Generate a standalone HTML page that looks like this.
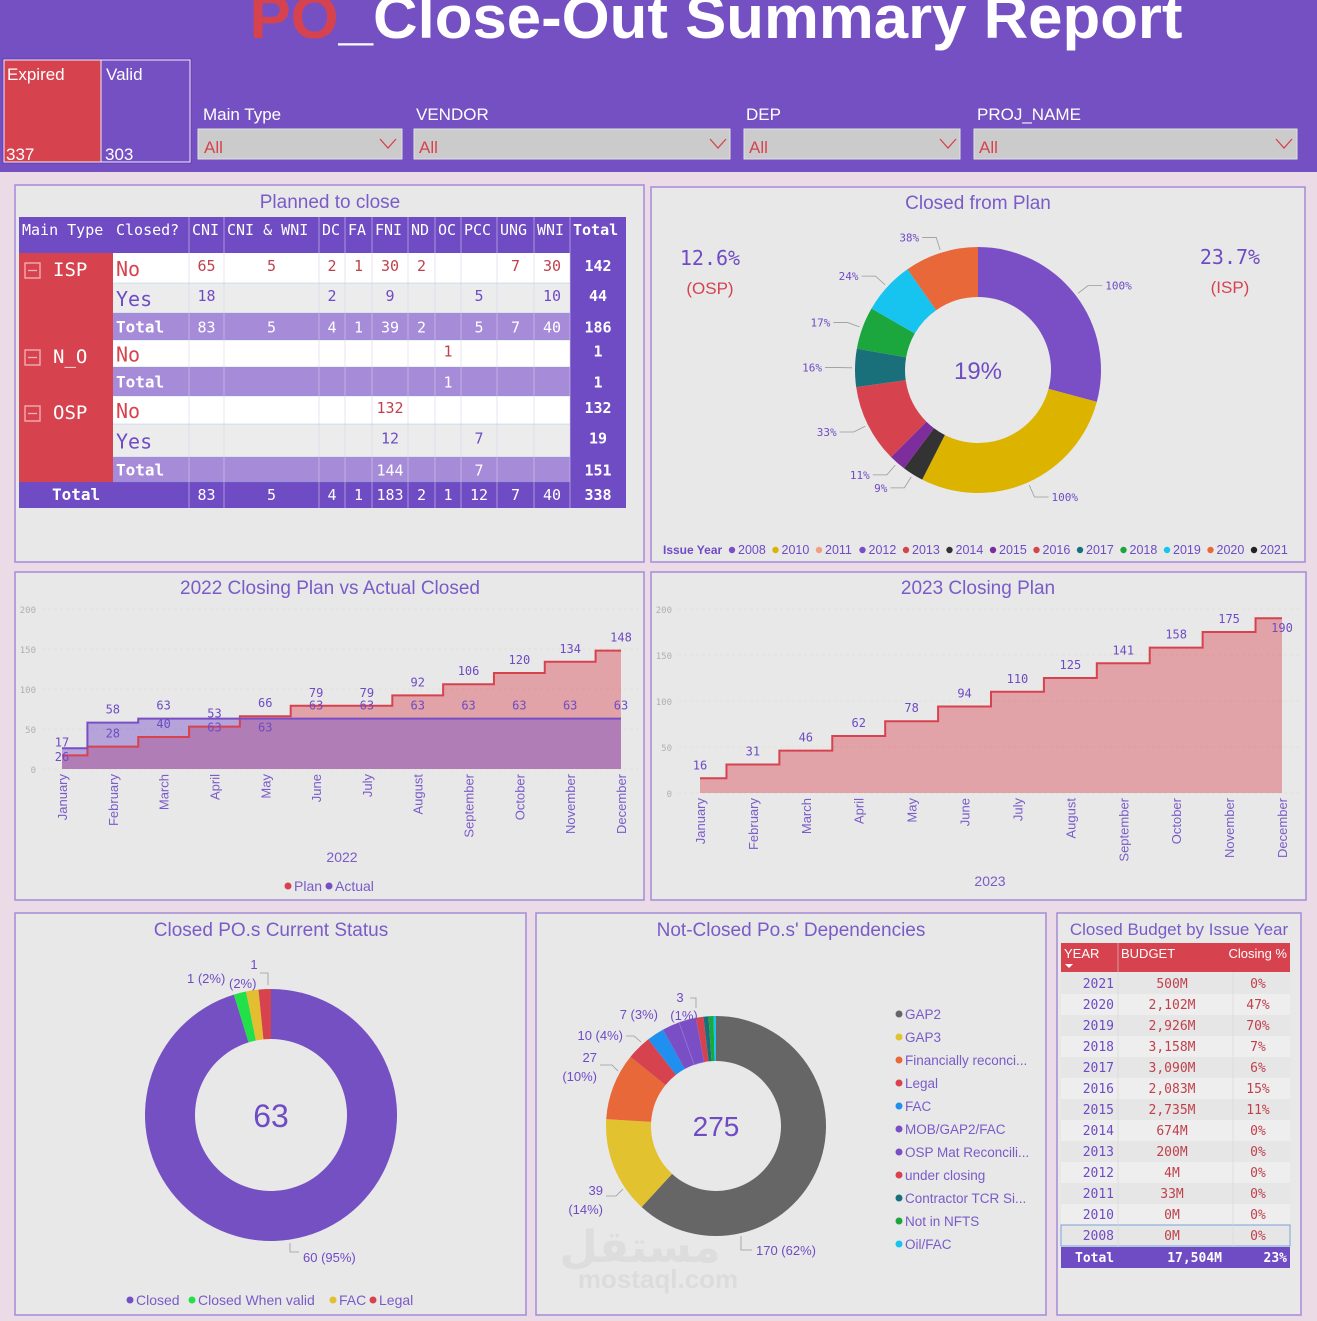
<!DOCTYPE html>
<html><head><meta charset="utf-8"><title>PO Close-Out Summary Report</title>
<style>
html,body{margin:0;padding:0;background:#eadbe6;}
svg{display:block;font-family:"Liberation Sans","DejaVu Sans",sans-serif;}
.mono{font-family:"DejaVu Sans Mono","Liberation Mono",monospace;}
</style></head>
<body>
<svg id="dash" width="1317" height="1321" viewBox="0 0 1317 1321" xmlns="http://www.w3.org/2000/svg">
<rect x="0" y="0" width="1317" height="1321" fill="#eadbe6"/>
<rect x="0" y="0" width="1317" height="172" fill="#7450c3"/>
<text x="716" y="38" text-anchor="middle" font-size="60" font-weight="bold" fill="#ffffff" textLength="933" lengthAdjust="spacingAndGlyphs"><tspan fill="#d6434f">PO</tspan>_Close-Out Summary Report</text>

<g>
<rect x="2" y="58" width="190" height="106" fill="#6a46b8"/>
<rect x="4" y="60" width="97" height="102" fill="#d6434f" stroke="#f4e9f7" stroke-width="1"/>
<rect x="101" y="60" width="89" height="102" fill="#7450c3" stroke="#f4e9f7" stroke-width="1"/>
<text x="7" y="80" font-size="17" fill="#fff">Expired</text>
<text x="106" y="80" font-size="17" fill="#fff">Valid</text>
<text x="6" y="160" font-size="17" fill="#fff">337</text>
<text x="105" y="160" font-size="17" fill="#fff">303</text>
</g>

<g>
<text x="203" y="120" font-size="17" fill="#fff">Main Type</text>
<rect x="198" y="129" width="204" height="30" fill="#cbcbcb" stroke="#e2e2e2"/>
<text x="204" y="153" font-size="17" fill="#d6434f">All</text>
<polyline points="380,139 388,148 396,139" fill="none" stroke="#d6434f" stroke-width="1.3"/>
</g>
<g>
<text x="416" y="120" font-size="17" fill="#fff">VENDOR</text>
<rect x="414" y="129" width="316" height="30" fill="#cbcbcb" stroke="#e2e2e2"/>
<text x="419" y="153" font-size="17" fill="#d6434f">All</text>
<polyline points="710,139 718,148 726,139" fill="none" stroke="#d6434f" stroke-width="1.3"/>
</g>
<g>
<text x="746" y="120" font-size="17" fill="#fff">DEP</text>
<rect x="744" y="129" width="216" height="30" fill="#cbcbcb" stroke="#e2e2e2"/>
<text x="749" y="153" font-size="17" fill="#d6434f">All</text>
<polyline points="940,139 948,148 956,139" fill="none" stroke="#d6434f" stroke-width="1.3"/>
</g>
<g>
<text x="977" y="120" font-size="17" fill="#fff">PROJ_NAME</text>
<rect x="974" y="129" width="323" height="30" fill="#cbcbcb" stroke="#e2e2e2"/>
<text x="979" y="153" font-size="17" fill="#d6434f">All</text>
<polyline points="1276,139 1284,148 1292,139" fill="none" stroke="#d6434f" stroke-width="1.3"/>
</g>

<rect x="15" y="185" width="629" height="377" fill="#e8e8e8" stroke="#a58bd6" stroke-width="1.5"/>
<rect x="651" y="187" width="654" height="375" fill="#e8e8e8" stroke="#a58bd6" stroke-width="1.5"/>
<rect x="15" y="572" width="629" height="328" fill="#e8e8e8" stroke="#a58bd6" stroke-width="1.5"/>
<rect x="651" y="572" width="655" height="328" fill="#e8e8e8" stroke="#a58bd6" stroke-width="1.5"/>
<rect x="15" y="913" width="511" height="402" fill="#e8e8e8" stroke="#a58bd6" stroke-width="1.5"/>
<rect x="536" y="913" width="510" height="402" fill="#e8e8e8" stroke="#a58bd6" stroke-width="1.5"/>
<rect x="1057" y="913" width="244" height="402" fill="#e8e8e8" stroke="#a58bd6" stroke-width="1.5"/>

<text x="330" y="208" text-anchor="middle" font-size="19" fill="#7a5bc8">Planned to close</text>
<text x="978" y="209" text-anchor="middle" font-size="19" fill="#7a5bc8">Closed from Plan</text>
<text x="330" y="594" text-anchor="middle" font-size="19" fill="#7a5bc8">2022 Closing Plan vs Actual Closed</text>
<text x="978" y="594" text-anchor="middle" font-size="19" fill="#7a5bc8">2023 Closing Plan</text>
<text x="271" y="936" text-anchor="middle" font-size="19" fill="#7a5bc8">Closed PO.s Current Status</text>
<text x="791" y="936" text-anchor="middle" font-size="19" fill="#7a5bc8">Not-Closed Po.s' Dependencies</text>
<text x="1179" y="935" text-anchor="middle" font-size="17" fill="#7a5bc8">Closed Budget by Issue Year</text>

<text x="710" y="265" text-anchor="middle" font-size="20" fill="#6f4bc4" class="mono">12.6%</text>
<text x="710" y="294" text-anchor="middle" font-size="17" fill="#d6434f">(OSP)</text>
<text x="1230" y="264" text-anchor="middle" font-size="20" fill="#6f4bc4" class="mono">23.7%</text>
<text x="1230" y="293" text-anchor="middle" font-size="17" fill="#d6434f">(ISP)</text>

<text x="640" y="1262" text-anchor="middle" font-size="44" font-weight="bold" fill="#dddddd" font-family="'DejaVu Sans',sans-serif">مستقل</text>
<text x="658" y="1288" text-anchor="middle" font-size="26" font-weight="bold" fill="#dcdcdc">mostaql.com</text>

<g id="layer"></g>
</svg>
<script>
// ---------- data ----------
const tableCols = ["Main Type","Closed?","CNI","CNI & WNI","DC","FA","FNI","ND","OC","PCC","UNG","WNI","Total"];
const tableGroups = ["ISP","N_O","OSP"];
const tableRowLabels = ["No","Yes","Total","No","Total","No","Yes","Total"];
const tableRowGroup = [0,0,0,1,1,2,2,2];
const tableValues = [
  [65,5,2,1,30,2,"","",7,30,142],
  [18,"",2,"",9,"","",5,"",10,44],
  [83,5,4,1,39,2,"",5,7,40,186],
  ["","","","","","",1,"","","",1],
  ["","","","","","",1,"","","",1],
  ["","","","",132,"","","","","",132],
  ["","","","",12,"","",7,"","",19],
  ["","","","",144,"","",7,"","",151]
];
const tableGrand = [83,5,4,1,183,2,1,12,7,40,338];

const planYears = ["2008","2010","2011","2012","2013","2014","2015","2016","2017","2018","2019","2020","2021"];
const planSliceYears = ["2008","2010","2014","2015","2013","2017","2018","2019","2020"];
const planSliceSizes = [105,102,10,8,37,18,20,25,35];
const planSliceLabels = ["100%","100%","9%","11%","33%","16%","17%","24%","38%"];

const months = ["January","February","March","April","May","June","July","August","September","October","November","December"];
const plan2022 = [17,28,40,53,66,79,79,92,106,120,134,148];
const actual2022 = [26,58,63,63,63,63,63,63,63,63,63,63];
const plan2023 = [16,31,46,62,78,94,110,125,141,158,175,190];
const yTicks = [0,50,100,150,200];

const statusCats = ["Closed","Closed When valid","FAC","Legal"];
const statusVals = [60,1,1,1];

const depCats = ["GAP2","GAP3","Financially reconci...","Legal","FAC","MOB/GAP2/FAC","OSP Mat Reconcili...","under closing","Contractor TCR Si...","Not in NFTS","Oil/FAC"];
const depVals = [170,39,27,10,7,7,7,3,2,2,1];

const budgetYears = ["2021","2020","2019","2018","2017","2016","2015","2014","2013","2012","2011","2010","2008"];
const budgetVals = ["500M","2,102M","2,926M","3,158M","3,090M","2,083M","2,735M","674M","200M","4M","33M","0M","0M"];
const budgetPct = ["0%","47%","70%","7%","6%","15%","11%","0%","0%","0%","0%","0%","0%"];

// ---------- helpers ----------
const NS = "http://www.w3.org/2000/svg";
const layer = document.getElementById('layer');
function mk(tag, attrs, parent){
  const e = document.createElementNS(NS, tag);
  for (const k in attrs) e.setAttribute(k, attrs[k]);
  (parent||layer).appendChild(e);
  return e;
}
function txt(x,y,s,size,fill,anchor,extra){
  const e = mk('text', Object.assign({x:x,y:y,'font-size':size,fill:fill,'text-anchor':anchor||'start'}, extra||{}));
  e.textContent = s;
  return e;
}
function pt(cx,cy,r,a){ const t=a*Math.PI/180; return [cx+r*Math.sin(t), cy-r*Math.cos(t)]; }
function arc(cx,cy,r0,r1,a0,a1){
  const p1=pt(cx,cy,r1,a0),p2=pt(cx,cy,r1,a1),p3=pt(cx,cy,r0,a1),p4=pt(cx,cy,r0,a0);
  const lg=(a1-a0)>180?1:0;
  return `M${p1[0]},${p1[1]} A${r1},${r1} 0 ${lg} 1 ${p2[0]},${p2[1]} L${p3[0]},${p3[1]} A${r0},${r0} 0 ${lg} 0 ${p4[0]},${p4[1]} Z`;
}

// ---------- Planned to close table ----------
const colX = [19,113,189,224,319,345,372,408,435,461,497,534,570,626];
const rowY = [217,253,283,313,340,367,396,424,457,482,508];
const hdr = mk('rect',{x:19,y:217,width:607,height:36,fill:'#6f4bc4'});


tableCols.forEach((c,i)=>{
  const t = txt(colX[i]+3, 235, c, 15, '#fff', 'start', {class:'mono', 'font-weight': i===12?'bold':'normal'});
  
  
});
const groupSpan = [[1,4],[4,6],[6,9]];
tableGroups.forEach((g,gi)=>{
  const y0=rowY[groupSpan[gi][0]], y1=rowY[groupSpan[gi][1]];
  const r = mk('rect',{x:19,y:y0,width:94,height:y1-y0,fill:'#d6434f'});
  
  
  const b = mk('rect',{x:25,y:y0+10,width:15,height:15,fill:'none',stroke:'#f3b3b9','stroke-width':1.3});
  
  
  mk('line',{x1:28,y1:y0+17.5,x2:37,y2:y0+17.5,stroke:'#f3b3b9','stroke-width':1.3});
  const t = txt(53, y0+23, g, 19, '#fff', 'start', {class:'mono'});
  
  
});
tableRowLabels.forEach((lab,ri)=>{
  const y0=rowY[ri+1], y1=rowY[ri+2], h=y1-y0;
  const isTot = lab==="Total", isNo = lab==="No";
  const bg = isTot ? '#a68bd9' : (isNo ? '#ffffff' : '#ececec');
  const r = mk('rect',{x:113,y:y0,width:457,height:h,fill:bg});
  
  
  const tc = mk('rect',{x:570,y:y0,width:56,height:h,fill:'#6f4bc4'});
  
  
  const lc = isTot ? '#fff' : (isNo ? '#d6434f' : '#6f4bc4');
  const lt = txt(116, isTot ? y0+h/2+6 : y0+h/2+8, lab, isTot?16:20, lc, 'start', {class:'mono','font-weight':isTot?'bold':'normal'});
  
  
  const vc = isTot ? '#fff' : (isNo ? '#c0414d' : '#6f4bc4');
  tableValues[ri].forEach((v,ci)=>{
    if (v==="") return;
    const cx=(colX[ci+2]+colX[ci+3])/2;
    const last = ci===10;
    const t = txt(cx, isTot ? y0+h/2+6 : y0+h/2+3, String(v), 15, last?'#fff':vc, 'middle', {class:'mono','font-weight':last?'bold':'normal'});
    
    
  });
});
const gt = mk('rect',{x:19,y:482,width:607,height:26,fill:'#6f4bc4'});


const gtl = txt(52, 500, 'Total', 16, '#fff', 'start', {class:'mono','font-weight':'bold'});


tableGrand.forEach((v,ci)=>{
  const cx=(colX[ci+2]+colX[ci+3])/2;
  const t = txt(cx, 500, String(v), 15, '#fff', 'middle', {class:'mono','font-weight':ci===10?'bold':'normal'});
  
  
});
for (let i=2;i<colX.length-1;i++){
  mk('line',{x1:colX[i],y1:217,x2:colX[i],y2:508,stroke:'#d9d4ea','stroke-width':0.8,opacity:0.7});
}
for (let j=2;j<rowY.length-1;j++){
  mk('line',{x1:113,y1:rowY[j],x2:570,y2:rowY[j],stroke:'#6f9ad8','stroke-width':0.5,opacity:0.5});
}

// ---------- Closed from Plan donut ----------
const yearColors = {"2008":"#7a4fc6","2010":"#dcb400","2011":"#f0a080","2012":"#7a4fc6","2013":"#d6434f","2014":"#333333","2015":"#7d2e9c","2016":"#d6434f","2017":"#19707a","2018":"#1ba63e","2019":"#17c3ef","2020":"#e8683a","2021":"#222222"};
(function(){
  const cx=978, cy=370, r1=123, r0=73;
  const tot = planSliceSizes.reduce((a,b)=>a+b,0);
  let a=0;
  planSliceSizes.forEach((s,i)=>{
    const da = s/tot*360;
    const p = mk('path',{d:arc(cx,cy,r0,r1,a,a+da),fill:yearColors[planSliceYears[i]]});
    
    
    const mid=a+da/2;
    const q1=pt(cx,cy,r1+3,mid), q2=pt(cx,cy,r1+16,mid);
    const right = Math.sin(mid*Math.PI/180)>=0;
    const q3=[q2[0]+(right?14:-14), q2[1]];
    mk('polyline',{points:`${q1[0]},${q1[1]} ${q2[0]},${q2[1]} ${q3[0]},${q3[1]}`,fill:'none',stroke:'#9a9a9a','stroke-width':0.8});
    const t = txt(q3[0]+(right?3:-3), q3[1]+4, planSliceLabels[i], 11, '#6f4bc4', right?'start':'end', {class:'mono'});
    
    
    a+=da;
  });
  const c = txt(cx, cy+9, '19%', 24, '#6f4bc4', 'middle');
  
  
  const lg = txt(663, 554, 'Issue Year', 12, '#6f4bc4', 'start', {'font-weight':'bold'});
  
  
  let lx = 728;
  planYears.forEach(y=>{
    const d = mk('circle',{cx:lx+4,cy:550,r:3.2,fill:yearColors[y]});
    
    
    const t = txt(lx+10, 554, y, 12.5, '#6f4bc4');
    
    
    lx += 43.5;
  });
})();

// ---------- step charts ----------
function stepChart(opts){
  const x = i => opts.x0 + i*(opts.x1-opts.x0)/(months.length-1);
  const y = v => opts.y0 - v*(opts.y0-opts.yTop)/200;
  yTicks.forEach(t=>{
    const tl = txt(opts.tickX, y(t)+4, String(t), 9, '#b0b0b0', 'end', {class:'mono'});
    
    
    mk('line',{x1:opts.tickX+6,y1:y(t),x2:opts.gridEnd,y2:y(t),stroke:'#ddd8c0','stroke-width':0.6,'stroke-dasharray':'3,3'});
  });
  function linePath(vals){
    let d=`M${x(0)},${y(vals[0])}`;
    for(let i=1;i<vals.length;i++){ const m=(x(i-1)+x(i))/2; d+=` H${m} V${y(vals[i])}`; }
    d+=` H${x(vals.length-1)}`;
    return d;
  }
  function areaPath(vals){ return linePath(vals)+` V${y(0)} H${x(0)} Z`; }
  opts.series.forEach(s=>{
    const f = mk('path',{d:areaPath(s.vals),fill:s.fill});
    
    
  });
  opts.series.forEach(s=>{
    const l = mk('path',{d:linePath(s.vals),fill:'none',stroke:s.stroke,'stroke-width':2});
    
    
  });
  opts.series.forEach(s=>{
    s.vals.forEach((v,i)=>{
      const ly = s.labelY ? s.labelY(v,i,y) : y(v)-9;
      const t = txt(x(i), ly, String(v), 12, '#6f4bc4', 'middle', {class:'mono'});
      
      
    });
  });
  months.forEach((m,i)=>{
    const t = txt(0,0,m,13,'#7a5bc8','end',{transform:`translate(${x(i)+5},${opts.y0+5}) rotate(-90)`});
    
    
  });
}
stepChart({x0:62,x1:621,y0:769,yTop:609,tickX:36,gridEnd:640,
  series:[
    {name:'plan',vals:plan2022,fill:'rgba(214,67,79,0.42)',stroke:'#d6434f'},
    {name:'actual',vals:actual2022,fill:'rgba(120,80,200,0.45)',stroke:'#7a4fc6',
     labelY:(v,i,y)=> Math.abs(plan2022[i]-v)<12 ? y(v)+13 : y(v)-9}
  ]});
const xt22 = txt(342, 862, '2022', 14, '#7a5bc8', 'middle');


const lp = mk('circle',{cx:288,cy:886,r:3.5,fill:'#d6434f'});


const lpt = txt(294, 891, 'Plan', 14, '#7a5bc8');


const la = mk('circle',{cx:329,cy:886,r:3.5,fill:'#7a4fc6'});


const lat = txt(335, 891, 'Actual', 14, '#7a5bc8');



stepChart({x0:700,x1:1282,y0:793,yTop:609,tickX:672,gridEnd:1300,
  series:[
    {name:'plan-2023',vals:plan2023,fill:'rgba(214,67,79,0.42)',stroke:'#d6434f',
     labelY:(v,i,y)=> i===plan2023.length-1 ? y(v)+14 : y(v)-9}
  ]});
const xt23 = txt(990, 886, '2023', 14, '#7a5bc8', 'middle');



// ---------- Closed PO status donut ----------
const statusColors = ["#7450c3","#22e04a","#e3be30","#d6434f"];
(function(){
  const cx=271, cy=1115, r1=126, r0=76;
  const tot = statusVals.reduce((a,b)=>a+b,0);
  let a=0;
  statusVals.forEach((v,i)=>{
    const da=v/tot*360;
    const p = mk('path',{d:arc(cx,cy,r0,r1,a,a+da),fill:statusColors[i]});
    
    
    a+=da;
  });
  const c = txt(cx, cy+12, String(tot), 32, '#6f4bc4', 'middle');
  
  
  mk('polyline',{points:'290,1243 290,1252 299,1252',fill:'none',stroke:'#9a9a9a','stroke-width':0.8});
  const l1 = txt(303, 1262, statusVals[0]+' ('+Math.round(statusVals[0]/tot*100)+'%)', 13, '#6f4bc4');
  
  
  const l2 = txt(187, 983, statusVals[1]+' ('+Math.round(statusVals[1]/tot*100)+'%)', 13, '#6f4bc4');
  
  
  const l3 = txt(229, 988, '('+Math.round(statusVals[2]/tot*100)+'%)', 13, '#6f4bc4');
  
  
  const l4 = txt(254, 969, String(statusVals[3]), 13, '#6f4bc4', 'middle');
  
  
  mk('polyline',{points:'260,973 268,973 268,985',fill:'none',stroke:'#9a9a9a','stroke-width':0.8});
  const legendX=[126,188,329,369];
  statusCats.forEach((c2,i)=>{
    const lx = legendX[i];
    const d = mk('circle',{cx:lx+4,cy:1300,r:3.5,fill:statusColors[i]});
    
    
    const t = txt(lx+10, 1305, c2, 14, '#7a5bc8');
    
    
  });
})();

// ---------- Dependencies donut ----------
const depColors = ["#666666","#e3c230","#e8683a","#d6434f","#1f8ff0","#7a4fc6","#7a4fc6","#d6434f","#19707a","#1ba63e","#17c3ef"];
(function(){
  const cx=716, cy=1126, r1=110, r0=65;
  const tot = depVals.reduce((a,b)=>a+b,0);
  let a=0;
  depVals.forEach((v,i)=>{
    const da=v/tot*360;
    const p = mk('path',{d:arc(cx,cy,r0,r1,a,a+da),fill:depColors[i],stroke:i===6?'#9b7fe0':'none','stroke-width':0.6});
    
    
    a+=da;
  });
  const c = txt(cx, cy+10, String(tot), 28, '#6f4bc4', 'middle');
  
  
  const pct = v => Math.round(v/tot*100)+'%';
  const labs = [
    [756,1255,depVals[0]+' ('+pct(depVals[0])+')','start'],
    [603,1195,String(depVals[1]),'end'],[603,1214,'('+pct(depVals[1])+')','end'],
    [597,1062,String(depVals[2]),'end'],[597,1081,'('+pct(depVals[2])+')','end'],
    [623,1040,depVals[3]+' ('+pct(depVals[3])+')','end'],
    [658,1019,depVals[4]+' ('+pct(depVals[4])+')','end'],
    [684,1020,'(1%)','middle'],
    [680,1002,String(depVals[7]),'middle']
  ];
  labs.forEach(l=>{
    const t = txt(l[0],l[1],l[2],13,'#6f4bc4',l[3]);
    
    
  });
  mk('polyline',{points:'741,1236 741,1250 752,1250',fill:'none',stroke:'#9a9a9a','stroke-width':0.8});
  mk('polyline',{points:'606,1196 616,1196 623,1189',fill:'none',stroke:'#9a9a9a','stroke-width':0.8});
  mk('polyline',{points:'600,1065 612,1065 618,1071',fill:'none',stroke:'#9a9a9a','stroke-width':0.8});
  mk('polyline',{points:'626,1036 634,1036 641,1042',fill:'none',stroke:'#9a9a9a','stroke-width':0.8});
  mk('polyline',{points:'690,998 696,998 696,1008',fill:'none',stroke:'#9a9a9a','stroke-width':0.8});
  depCats.forEach((c2,i)=>{
    const yy = 1014 + i*23;
    const d = mk('circle',{cx:899,cy:yy,r:3.5,fill:depColors[i]});
    
    
    const t = txt(905, yy+5, c2, 13.5, '#7a5bc8');
    
    
  });
})();

// ---------- Budget table ----------
(function(){
  const h = mk('rect',{x:1061,y:943,width:229,height:29,fill:'#d6434f'});
  
  
  const c1 = txt(1064,958,'YEAR',13,'#fff');
  
  
  const c2 = txt(1121,958,'BUDGET',13,'#fff');
  
  
  const c3 = txt(1287,958,'Closing %',13,'#fff','end');
  
  
  const s = mk('path',{d:'M1065,964 L1073,964 L1069,968 Z',fill:'#fff'});
  
  
  budgetYears.forEach((yr,i)=>{
    const y0 = 973 + i*21;
    const r = mk('rect',{x:1061,y:y0,width:229,height:21,fill:i%2===0?'#e6e6e6':'#eeeeee',stroke:i===budgetYears.length-1?'#7aa3d8':'none','stroke-width':1});
    
    
    const a = txt(1114,y0+15,yr,13,'#6f4bc4','end',{class:'mono'});
    
    
    const b = txt(1172,y0+15,budgetVals[i],13,'#c0414d','middle',{class:'mono'});
    
    
    const c = txt(1258,y0+15,budgetPct[i],13,'#c0414d','middle',{class:'mono'});
    
    
  });
  mk('line',{x1:1118,y1:943,x2:1118,y2:1247,stroke:'#d5d5d5','stroke-width':0.6});
  mk('line',{x1:1233,y1:972,x2:1233,y2:1247,stroke:'#d5d5d5','stroke-width':0.6});
  const t = mk('rect',{x:1061,y:1247,width:229,height:21,fill:'#6f4bc4'});
  
  
  const t1 = txt(1075,1262,'Total',13,'#fff','start',{class:'mono','font-weight':'bold'});
  
  
  const t2 = txt(1222,1262,'17,504M',13,'#fff','end',{class:'mono','font-weight':'bold'});
  
  
  const t3 = txt(1287,1262,'23%',13,'#fff','end',{class:'mono','font-weight':'bold'});
  
  
})();
</script>
</body></html>
